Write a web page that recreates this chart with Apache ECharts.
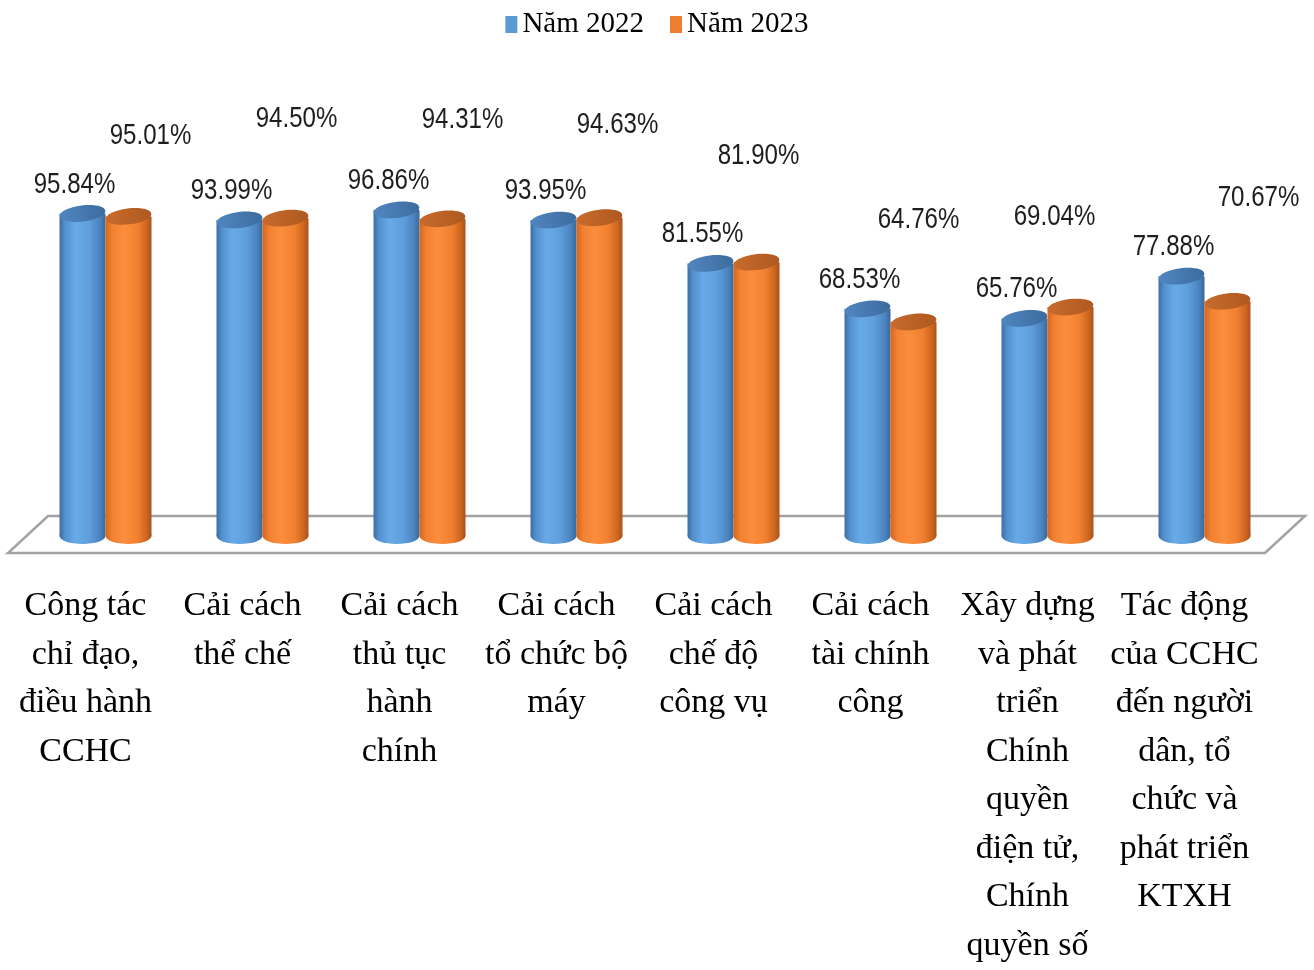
<!DOCTYPE html>
<html>
<head>
<meta charset="utf-8">
<script src="https://cdn.jsdelivr.net/npm/echarts@6/dist/echarts.min.js"></script>
<style>
html,body{margin:0;padding:0;background:#fff;}
#chart{width:1314px;height:970px;}
</style>
</head>
<body>
<div id="chart"></div>
<script>
// ---- data ----
const categories = [
  "Công tác\nchỉ đạo,\nđiều hành\nCCHC",
  "Cải cách\nthể chế",
  "Cải cách\nthủ tục\nhành\nchính",
  "Cải cách\ntổ chức bộ\nmáy",
  "Cải cách\nchế độ\ncông vụ",
  "Cải cách\ntài chính\ncông",
  "Xây dựng\nvà phát\ntriển\nChính\nquyền\nđiện tử,\nChính\nquyền số",
  "Tác động\ncủa CCHC\nđến người\ndân, tổ\nchức và\nphát triển\nKTXH"
];
const seriesNames = ["Năm 2022", "Năm 2023"];
const values2022 = [95.84, 93.99, 96.86, 93.95, 81.55, 68.53, 65.76, 77.88];
const values2023 = [95.01, 94.50, 94.31, 94.63, 81.90, 64.76, 69.04, 70.67];

// ---- style config ----
const labelShift2022 = [[-8,-29],[-8,-29],[-8,-29],[-8,-29],[-8,-29],[-8,-29],[-8,-29],[-8,-29]];
const labelShift2023 = [[22,-80],[11,-99],[20,-99],[18,-93],[2,-106],[5,-102],[-16,-90],[31,-103]];
const legendColors = ['#5B9BD5', '#ED7D31'];
const bodyStops = [
  [[0,'#3C6DA3'],[0.12,'#5390CE'],[0.35,'#68AAE8'],[0.65,'#5E9EDB'],[0.88,'#4B83BF'],[1,'#3A6898']],
  [[0,'#D4661F'],[0.15,'#F38132'],[0.4,'#FB8E3E'],[0.7,'#F0802F'],[0.9,'#CC651F'],[1,'#A8521A']]
];
const topStops = [
  [[0,'#5086C0'],[1,'#3C6C9E']],
  [[0,'#C96A2C'],[1,'#AE5920']]
];
const valueFont = '29px "Liberation Sans", Arial, sans-serif';

function grad(stops){
  return {type:'linear', x:0, y:0, x2:1, y2:0, global:false,
    colorStops: stops.map(s => ({offset:s[0], color:s[1]}))};
}

function cylinderRenderer(sIdx, shifts){
  const dir = sIdx === 0 ? -1 : 1;
  return function(params, api){
    const ci = api.value(0), v = api.value(1);
    const top = api.coord([ci, v]);
    const base = api.coord([ci, 0]);
    const band = api.size([1, 0])[0];
    const w = band * 0.293;
    const rx = w / 2, ry = 8;
    const cx = top[0] + dir * rx;
    const yTop = top[1];
    const yBot = base[1] - 12;
    const sh = shifts[params.dataIndex];
    return {
      type: 'group',
      children: [
        {type:'ellipse', shape:{cx:cx, cy:yBot, rx:rx, ry:ry}, style:{fill:grad(bodyStops[sIdx])}},
        {type:'rect', shape:{x:cx-rx, y:yTop, width:w, height:yBot-yTop}, style:{fill:grad(bodyStops[sIdx])}},
        {type:'ellipse', x:cx, y:yTop, rotation:0.12, shape:{cx:0, cy:0, rx:rx, ry:ry}, style:{fill:grad(topStops[sIdx])}},
        {type:'text', x:cx + sh[0], y:yTop + sh[1], scaleX:0.83, scaleY:1,
          style:{text: v.toFixed(2) + '%', fill:'#1e1e1e', font: valueFont, align:'center', verticalAlign:'middle'}}
      ]
    };
  };
}

function floorRenderer(params, api){
  const cs = params.coordSys;
  const y0 = api.coord([0, 0])[1];
  const gx = cs.x, gr = cs.x + cs.width;
  return {
    type:'polygon',
    shape:{points:[[gx+21, y0-32],[gr+22, y0-32],[gr-18, y0+5],[gx-19, y0+5]]},
    style:{fill:'#ffffff', stroke:'#A3A3A3', lineWidth:2.5}
  };
}

const chart = echarts.init(document.getElementById('chart'), null, {renderer:'canvas'});
chart.setOption({
  animation: false,
  backgroundColor: '#ffffff',
  legend: {
    data: seriesNames,
    top: 5,
    left: 'center',
    icon: 'rect',
    itemWidth: 12,
    itemHeight: 17,
    itemGap: 26,
    textStyle: {fontFamily: '"Liberation Serif", "Times New Roman", serif', fontSize: 29, color: '#000'}
  },
  grid: {left: 27, right: 31, top: 199, bottom: 418, containLabel: false},
  xAxis: {
    type: 'category',
    data: categories,
    axisLine: {show: false},
    axisTick: {show: false},
    axisLabel: {
      interval: 0,
      margin: 34,
      padding: [0, 40, 0, 0],
      fontFamily: '"Liberation Serif", "Times New Roman", serif',
      fontSize: 34,
      lineHeight: 48.5,
      color: '#000',
      align: 'center'
    }
  },
  yAxis: {type: 'value', min: 0, max: 100, show: false},
  series: [
    {name:'floor', type:'custom', silent:true, z:1, renderItem: floorRenderer, data:[[0,0]]},
    {name: seriesNames[0], type:'custom', z:2, itemStyle:{color:legendColors[0]},
      renderItem: cylinderRenderer(0, labelShift2022),
      encode:{x:0, y:1},
      data: values2022.map((v,i) => [i, v])},
    {name: seriesNames[1], type:'custom', z:3, itemStyle:{color:legendColors[1]},
      renderItem: cylinderRenderer(1, labelShift2023),
      encode:{x:0, y:1},
      data: values2023.map((v,i) => [i, v])}
  ]
});
</script>
</body>
</html>
